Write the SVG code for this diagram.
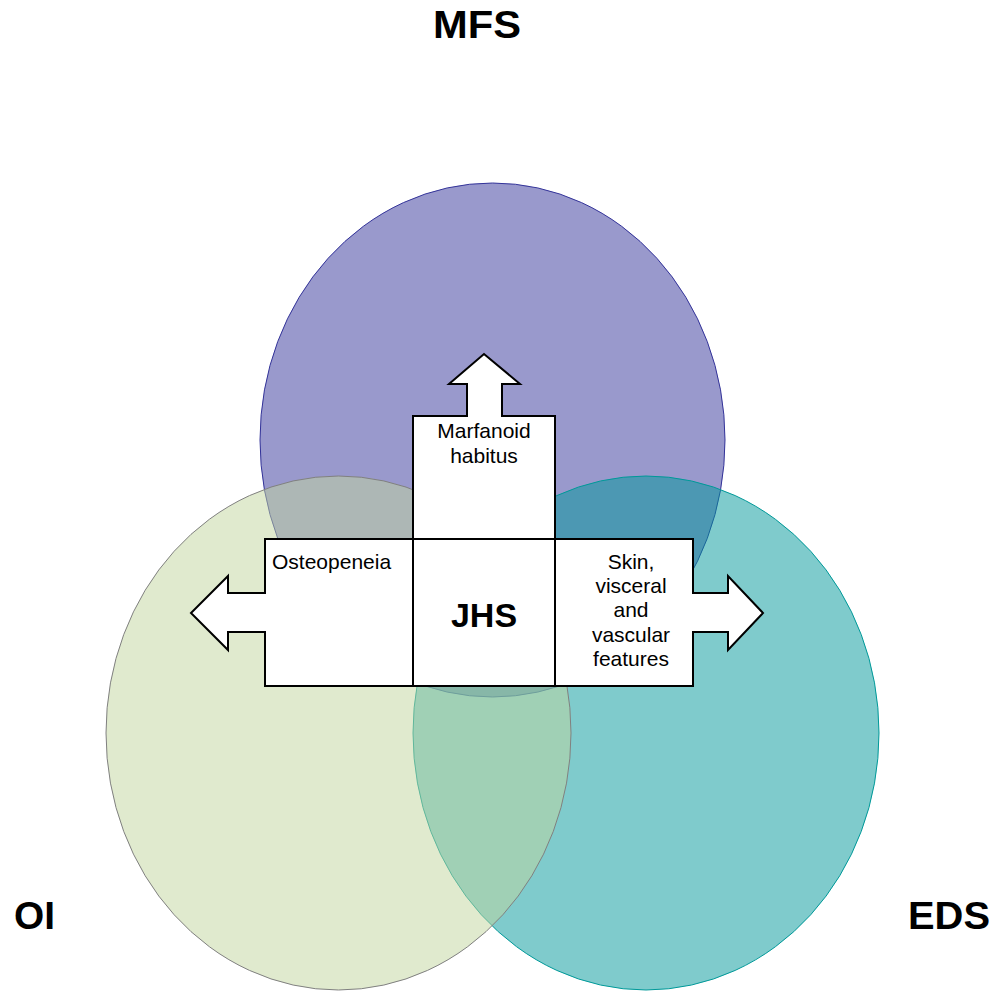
<svg xmlns="http://www.w3.org/2000/svg" width="1005" height="991" viewBox="0 0 1005 991">
<style>
.lbl{font-family:"Liberation Sans",Arial,sans-serif;font-weight:bold;font-size:38px;fill:#000}
.txt{font-family:"Liberation Sans",Arial,sans-serif;font-size:21px;fill:#000}
.box{fill:#fff;stroke:#000;stroke-width:2;stroke-linejoin:miter}
</style>
<rect width="1005" height="991" fill="#fff"/>
<g id="circles">
<g id="MFS-circle"><ellipse cx="492.5" cy="440" rx="232.5" ry="257" fill="#333399" fill-opacity="0.5" stroke="#333399" stroke-width="1"/></g>
<g id="EDS-circle"><ellipse cx="646" cy="733" rx="233" ry="257" fill="#009799" fill-opacity="0.5" stroke="#009999" stroke-width="1"/></g>
<g id="OI-circle"><ellipse cx="338.5" cy="733" rx="232.5" ry="257" fill="#C1D59D" fill-opacity="0.5" stroke="#808080" stroke-width="1"/></g>
</g>
<g id="connectors"></g>
<g id="node-osteopeneia">
<path class="box" d="M413,539 H265 V593 H228 V576 L191,613 L228,650 V632 H265 V686 H413 Z"/>
<text class="txt" x="272" y="569">Osteopeneia</text>
</g>
<g id="node-skin">
<path class="box" d="M555,539 H693 V593 H728 V576 L763,613 L728,650 V632 H693 V686 H555 Z"/>
<text class="txt" x="631" y="569" text-anchor="middle">Skin,</text>
<text class="txt" x="631" y="593" text-anchor="middle">visceral</text>
<text class="txt" x="631" y="617" text-anchor="middle">and</text>
<text class="txt" x="631" y="642" text-anchor="middle">vascular</text>
<text class="txt" x="631" y="666" text-anchor="middle">features</text>
</g>
<g id="node-marfanoid">
<path class="box" d="M413,539 V416 H467 V384 H449 L484,354 L520,384 H502 V416 H555 V539 Z"/>
<text class="txt" x="484" y="438" text-anchor="middle">Marfanoid</text>
<text class="txt" x="484" y="463" text-anchor="middle">habitus</text>
</g>
<g id="node-JHS">
<rect class="box" x="413" y="539" width="142" height="147"/>
<text class="lbl" x="484" y="627" text-anchor="middle" style="font-size:34px">JHS</text>
</g>
<g id="label-MFS"><text class="lbl" x="433" y="38" textLength="88" lengthAdjust="spacingAndGlyphs">MFS</text></g>
<g id="label-OI"><text class="lbl" x="14" y="929" textLength="41" lengthAdjust="spacingAndGlyphs">OI</text></g>
<g id="label-EDS"><text class="lbl" x="908" y="929" textLength="82" lengthAdjust="spacingAndGlyphs">EDS</text></g>
</svg>
